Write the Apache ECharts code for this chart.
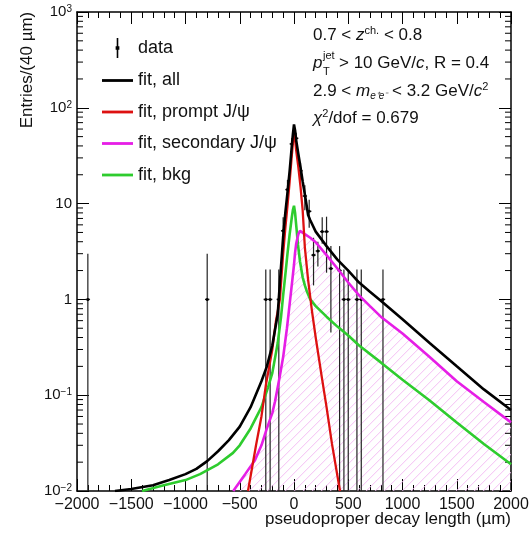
<!DOCTYPE html>
<html><head><meta charset="utf-8">
<script src="https://cdn.jsdelivr.net/npm/echarts@6/dist/echarts.min.js"></script>
<style>html,body{margin:0;padding:0;background:#fff}#c{width:529px;height:533px}</style>
</head><body><div id="c"></div>
<script>
// ---- data points (x in µm, entries, lower and upper error edge) ----
const dataX  = [-1900, -800, -260, -220, -140, -100, -60, -20, 20, 60, 100, 140, 180, 220, 260, 300, 340, 420, 460, 500, 580, 620, 820];
const dataY  = [1, 1, 1, 1, 1, 5.2, 14, 42, 48, 22, 12, 8.3, 2.9, 3.2, 5.1, 5.1, 2.1, 2.0, 1, 1, 1, 1, 1];
const dataLo = [0.01, 0.01, 0.01, 0.01, 0.01, 3.6, 10.3, 35.5, 41, 17.3, 8.5, 5.6, 1.4, 2.2, 3.8, 1.9, 0.45, 0.01, 0.01, 0.01, 0.01, 0.01, 0.01];
const dataHi = [3, 3, 2.05, 2.05, 2.05, 7.2, 17.7, 48.5, 55, 26.7, 15.5, 11, 4.4, 4.0, 7.2, 7.3, 3.6, 3.6, 2.05, 2.05, 2.05, 2.05, 2.05];

// ---- fit, all ----
const allX = [-1650,-1500,-1300,-1150,-1000,-900,-800,-700,-600,-500,-400,-300,-250,-200,-150,-125,-100,-80,-60,-40,-20,-10,0,10,20,40,60,80,100,120,130,150,200,300,400,500,600,700,800,1000,1250,1500,1750,2000];
const allY = [0.01,0.0105,0.0115,0.013,0.015,0.017,0.0205,0.026,0.034,0.047,0.075,0.14,0.2,0.33,0.7,1.8,4.5,8,13,22,40,53,67,58,46,33,24,17,12.5,9,7.6,6.7,5.1,3.6,2.6,2.0,1.5,1.2,0.97,0.62,0.35,0.2,0.115,0.07];

// ---- fit, prompt J/psi ----
const promptX = [-424,-350,-300,-258,-200,-166,-130,-100,-80,-60,-40,-20,-10,0,10,20,40,60,80,100,130,166,200,258,300,350,424];
const promptY = [0.01,0.03,0.06,0.13,0.3,0.6,1.0,3.0,5.5,9.5,17,32,43,55,47,36,24,15,8.5,3.5,1.6,0.75,0.4,0.15,0.075,0.031,0.01];

// ---- fit, secondary J/psi ----
const secX = [-560,-450,-360,-300,-250,-200,-175,-130,-100,-65,-40,-18,0,9,20,40,55,70,100,150,200,300,400,500,600,700,800,1000,1250,1500,1750,2000];
const secY = [0.01,0.015,0.021,0.03,0.045,0.065,0.086,0.16,0.25,0.5,0.9,1.5,2.3,3.0,3.8,4.8,5.2,5.1,4.8,4.4,3.95,2.9,2.1,1.5,1.1,0.85,0.66,0.44,0.25,0.14,0.085,0.052];

// ---- fit, bkg ----
const bkgX = [-1400,-1200,-1000,-866,-700,-562,-500,-400,-300,-240,-200,-150,-120,-100,-80,-60,-40,-20,-10,0,10,20,37,55,80,100,120,150,200,300,400,500,600,800,1000,1250,1500,1750,2000];
const bkgY = [0.01,0.0115,0.013,0.015,0.019,0.025,0.03,0.045,0.075,0.12,0.17,0.35,0.65,1.1,1.8,3.0,4.8,7.2,8.6,9.5,8.0,6.0,3.7,2.5,1.7,1.4,1.2,1.0,0.85,0.66,0.52,0.42,0.33,0.22,0.145,0.088,0.052,0.031,0.019];

// ---- axes ----
const xMin = -2000, xMax = 2000, xStep = 500;
const yMin = 0.01, yMax = 1000;
const yDecades = [-2, -1, 0, 1, 2];
const yMinorMult = [2, 3, 4, 5, 6, 7, 8, 9];

const FONT = '"Liberation Sans", Arial, Helvetica, sans-serif';
const zip = (xs, ys) => xs.map((x, i) => [x, ys[i]]);

const minorVals = [];
yDecades.forEach(d => yMinorMult.forEach(m => minorVals.push([xMin, m * Math.pow(10, d)])));

const chart = echarts.init(document.getElementById('c'), null, { renderer: 'canvas' });

const axisCommon = {
  axisLine: { show: true, onZero: false, lineStyle: { color: '#000', width: 1.5 } },
  splitLine: { show: false },
};
const xAxisBase = Object.assign({}, axisCommon, {
  type: 'value', min: xMin, max: xMax, interval: xStep,
  axisTick: { show: true, inside: true, length: 12, lineStyle: { color: '#000', width: 1 } },
  minorTick: { show: true, splitNumber: 5, length: 6, lineStyle: { color: '#000', width: 1 } },
  minorSplitLine: { show: false }
});
const yAxisBase = Object.assign({}, axisCommon, {
  type: 'log', logBase: 10, min: yMin, max: yMax,
  axisTick: { show: true, inside: true, length: 12, lineStyle: { color: '#000', width: 1 } },
  minorTick: { show: false }
});

function supLabel(v) {
  const e = Math.round(Math.log10(v));
  if (e === 0) return '1';
  if (e === 1) return '10';
  return '10{s|' + (e < 0 ? '\u2212' + (-e) : e) + '}';
}

const lineIcon = 'path://M0,0h31v2.8h-31z';

const option = {
  animation: false,
  backgroundColor: '#fff',
  grid: { left: 77, right: 18, top: 12, bottom: 42, containLabel: false, outerBoundsMode: 'none' },
  xAxis: [
    Object.assign({}, xAxisBase, {
      position: 'bottom',
      axisLabel: {
        show: true, margin: 6, color: '#111', fontSize: 16, fontFamily: FONT,
        formatter: v => (v < 0 ? '\u2212' + Math.abs(v) : String(v))
      }
    }),
    Object.assign({}, xAxisBase, { position: 'top', axisLabel: { show: false } })
  ],
  yAxis: [
    Object.assign({}, yAxisBase, {
      position: 'left',
      axisLabel: {
        show: true, margin: 5, color: '#111', fontSize: 15, fontFamily: FONT,
        formatter: supLabel,
        rich: { s: { fontSize: 10, fontFamily: FONT, color: '#111', verticalAlign: 'top', lineHeight: 8 } }
      }
    }),
    Object.assign({}, yAxisBase, { position: 'right', axisLabel: { show: false } })
  ],
  legend: {
    show: true, orient: 'vertical', left: 97, top: 33,
    itemWidth: 31, itemHeight: 20, itemGap: 13.5,
    textStyle: { fontSize: 18, fontFamily: FONT, color: '#111' },
    data: [
      { name: 'data', icon: 'path://M9.4,2.5h1.2v15h-1.2z M8.6,8.6h2.8v2.8h-2.8z' },
      { name: 'fit, all', icon: lineIcon },
      { name: 'fit, prompt J/\u03c8', icon: lineIcon },
      { name: 'fit, secondary J/\u03c8', icon: lineIcon },
      { name: 'fit, bkg', icon: lineIcon }
    ]
  },
  series: [
    {
      name: 'minorTicks', type: 'custom', xAxisIndex: 0, yAxisIndex: 0, silent: true,
      data: minorVals, encode: { x: 0, y: 1 }, clip: false,
      renderItem: function (params, api) {
        const pL = api.coord([xMin, api.value(1)]);
        const pR = api.coord([xMax, api.value(1)]);
        return {
          type: 'group', children: [
            { type: 'line', shape: { x1: pL[0], y1: pL[1], x2: pL[0] + 6, y2: pL[1] }, style: { stroke: '#000', lineWidth: 1 } },
            { type: 'line', shape: { x1: pR[0], y1: pR[1], x2: pR[0] - 6, y2: pR[1] }, style: { stroke: '#000', lineWidth: 1 } }
          ]
        };
      }
    },
    {
      name: 'secFill', type: 'custom', silent: true, z: 1, clip: true,
      data: [[secX[0], yMin]], encode: { x: 0, y: 1 },
      renderItem: function (params, api) {
        const pts = secX.map((x, i) => api.coord([x, secY[i]]));
        const b0 = api.coord([secX[0], yMin]);
        const b1 = api.coord([secX[secX.length - 1], yMin]);
        pts.push([b1[0], b1[1]]);
        pts.push([b0[0], b0[1]]);
        const tl = api.coord([xMin, yMax]);
        const H = b0[1] - tl[1];
        const lines = [];
        for (let x0 = b0[0] - H; x0 <= b1[0] + 9; x0 += 9) {
          lines.push({ type: 'line', shape: { x1: x0, y1: b0[1], x2: x0 + H, y2: b0[1] - H },
            style: { stroke: 'rgb(244,190,244)', lineWidth: 1 } });
        }
        return {
          type: 'group',
          clipPath: { type: 'polygon', shape: { points: pts } },
          children: lines
        };
      }
    },
    {
      name: 'data', type: 'custom', z: 3,
      itemStyle: { color: '#000' },
      data: dataX.map((x, i) => [x, dataY[i], dataLo[i], dataHi[i]]),
      encode: { x: 0, y: 1 }, clip: true,
      renderItem: function (params, api) {
        const x = api.value(0);
        const p = api.coord([x, api.value(1)]);
        const pl = api.coord([x, api.value(2)]);
        const ph = api.coord([x, api.value(3)]);
        return {
          type: 'group', children: [
            { type: 'line', shape: { x1: p[0], y1: pl[1], x2: p[0], y2: ph[1] }, style: { stroke: '#222', lineWidth: 1.2 } },
            { type: 'line', shape: { x1: p[0] - 2.2, y1: p[1], x2: p[0] + 2.2, y2: p[1] }, style: { stroke: '#222', lineWidth: 1.4 } },
            { type: 'circle', shape: { cx: p[0], cy: p[1], r: 1.5 }, style: { fill: '#000' } }
          ]
        };
      }
    },
    { name: 'fit, bkg', type: 'line', data: zip(bkgX, bkgY), symbol: 'none', showSymbol: false, z: 4,
      itemStyle: { color: '#2ecc2e' }, lineStyle: { color: '#2ecc2e', width: 2.6 } },
    { name: 'fit, secondary J/\u03c8', type: 'line', data: zip(secX, secY), symbol: 'none', showSymbol: false, z: 5,
      itemStyle: { color: '#e61ee6' }, lineStyle: { color: '#e61ee6', width: 2.6 } },
    { name: 'fit, prompt J/\u03c8', type: 'line', data: zip(promptX, promptY), symbol: 'none', showSymbol: false, z: 6,
      itemStyle: { color: '#dd1111' }, lineStyle: { color: '#dd1111', width: 2.3 } },
    { name: 'fit, all', type: 'line', data: zip(allX, allY), symbol: 'none', showSymbol: false, z: 7,
      itemStyle: { color: '#000' }, lineStyle: { color: '#000', width: 2.6 } }
  ],
  graphic: [
    { type: 'text', x: 27, y: 70, rotation: Math.PI / 2,
      style: { text: 'Entries/(40 \u00b5m)', font: '17px ' + FONT, fill: '#111', align: 'center', verticalAlign: 'middle' } },
    { type: 'text', x: 511, y: 519,
      style: { text: 'pseudoproper decay length (\u00b5m)', font: '17px ' + FONT, fill: '#111', align: 'right', verticalAlign: 'middle' } },
    { type: 'text', x: 313, y: 35,
      style: {
        text: '{n|0.7 < }{i|z}{s|ch.}{n| < 0.8}', verticalAlign: 'middle', fill: '#111',
        rich: {
          n: { fontSize: 17, fontFamily: FONT, lineHeight: 20, fill: '#111' },
          i: { fontSize: 17, fontFamily: FONT, fontStyle: 'italic', lineHeight: 20, fill: '#111' },
          s: { fontSize: 11, fontFamily: FONT, lineHeight: 8, verticalAlign: 'top', fill: '#111' }
        }
      } },
    { type: 'text', x: 313, y: 63,
      style: { text: 'p', font: 'italic 17px ' + FONT, fill: '#111', verticalAlign: 'middle' } },
    { type: 'text', x: 323, y: 56,
      style: { text: 'jet', font: '11px ' + FONT, fill: '#111', verticalAlign: 'middle' } },
    { type: 'text', x: 323, y: 72,
      style: { text: 'T', font: '11px ' + FONT, fill: '#111', verticalAlign: 'middle' } },
    { type: 'text', x: 339, y: 63,
      style: {
        text: '{n|> 10 GeV/}{i|c}{n|, R = 0.4}', verticalAlign: 'middle', fill: '#111',
        rich: {
          n: { fontSize: 17, fontFamily: FONT, lineHeight: 20, fill: '#111' },
          i: { fontSize: 17, fontFamily: FONT, fontStyle: 'italic', lineHeight: 20, fill: '#111' }
        }
      } },
    { type: 'text', x: 313, y: 91,
      style: {
        text: '{n|2.9 < }{i|m}{b|e\u207ae\u207b}{n| < 3.2 GeV/}{i|c}{s|2}', verticalAlign: 'middle', fill: '#111',
        rich: {
          n: { fontSize: 17, fontFamily: FONT, lineHeight: 20, fill: '#111' },
          i: { fontSize: 17, fontFamily: FONT, fontStyle: 'italic', lineHeight: 20, fill: '#111' },
          s: { fontSize: 11, fontFamily: FONT, lineHeight: 8, verticalAlign: 'top', fill: '#111' },
          b: { fontSize: 10, fontFamily: FONT, fontStyle: 'italic', lineHeight: 8, verticalAlign: 'bottom', fill: '#111' }
        }
      } },
    { type: 'text', x: 313, y: 118,
      style: {
        text: '{i|\u03c7}{s|2}{n|/dof = 0.679}', verticalAlign: 'middle', fill: '#111',
        rich: {
          n: { fontSize: 17, fontFamily: FONT, lineHeight: 20, fill: '#111' },
          i: { fontSize: 17, fontFamily: FONT, fontStyle: 'italic', lineHeight: 20, fill: '#111' },
          s: { fontSize: 11, fontFamily: FONT, lineHeight: 8, verticalAlign: 'top', fill: '#111' }
        }
      } }
  ]
};
chart.setOption(option);
</script></body></html>
